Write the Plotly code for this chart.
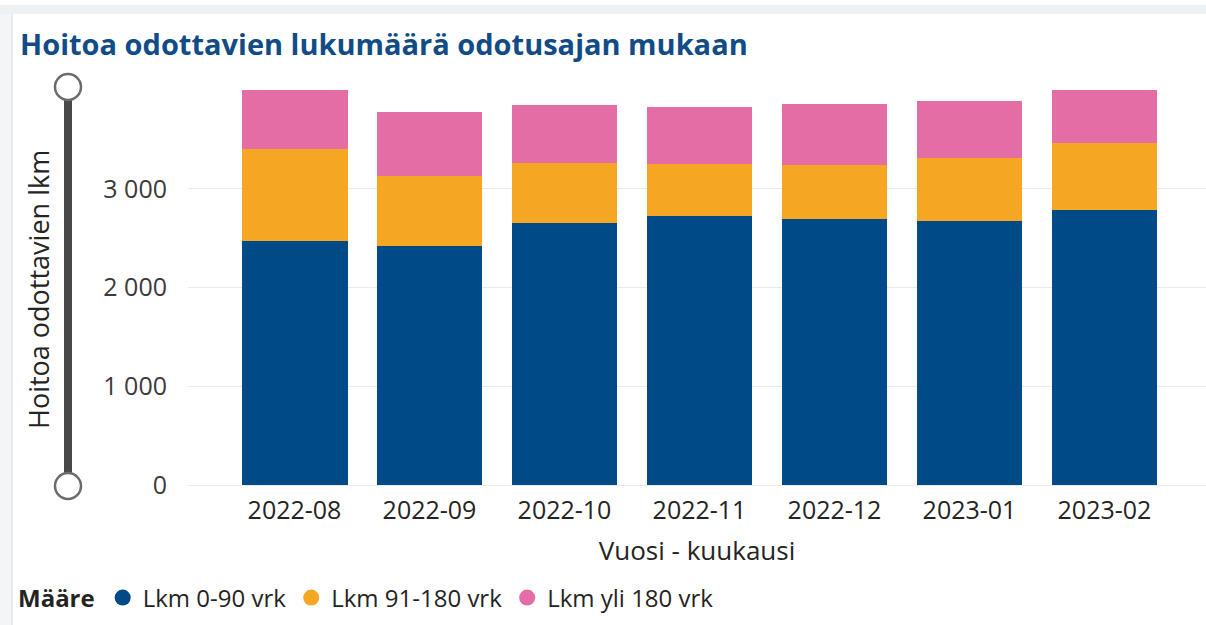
import plotly.graph_objects as go

# ---- data ----
months = ["2022-08", "2022-09", "2022-10", "2022-11", "2022-12", "2023-01", "2023-02"]
series_names = ["Lkm 0-90 vrk", "Lkm 91-180 vrk", "Lkm yli 180 vrk"]
lkm_0_90 = [2475, 2419, 2657, 2728, 2692, 2671, 2786]
lkm_91_180 = [927, 713, 607, 520, 549, 643, 674]
lkm_yli_180 = [597, 642, 580, 576, 619, 574, 539]
y_ticks = [0, 1000, 2000, 3000]

colors = ["#004A87", "#F5A623", "#E36DA4"]

W, H = 1206, 625
ML, MR, MT, MB = 188, 0, 90, 140
PW = W - ML - MR
PH = H - MT - MB


def px_x(px):
    return (px - ML) / PW


def px_y(py):
    return (H - MB - py) / PH


FONT = "Open Sans, Segoe UI, sans-serif"

fig = go.Figure()
for name, vals, col in zip(series_names, [lkm_0_90, lkm_91_180, lkm_yli_180], colors):
    fig.add_trace(go.Bar(x=months, y=vals, name=name, marker=dict(color=col, line=dict(width=0)),
                         showlegend=False))
# legend entries with round markers
for name, col in zip(series_names, colors):
    fig.add_trace(go.Scatter(x=[None], y=[None], mode="markers", name=name,
                             marker=dict(color=col, size=20, symbol="circle"), showlegend=True))

shapes = []
# outer frame strips
shapes.append(dict(type="rect", xref="paper", yref="paper", x0=px_x(0), x1=px_x(W), y0=px_y(5), y1=px_y(14),
                   fillcolor="#EEF1F4", line=dict(width=0), layer="below"))
shapes.append(dict(type="rect", xref="paper", yref="paper", x0=px_x(0), x1=px_x(12), y0=px_y(14), y1=px_y(H),
                   fillcolor="#F3F5F7", line=dict(width=0), layer="below"))
shapes.append(dict(type="line", xref="paper", yref="paper", x0=px_x(12), x1=px_x(12), y0=px_y(14), y1=px_y(H),
                   line=dict(color="#E3E6EA", width=1.5), layer="below"))
# zoom slider track
sx = 68
shapes.append(dict(type="line", xref="paper", yref="paper", x0=px_x(sx), x1=px_x(sx), y0=px_y(87), y1=px_y(486),
                   line=dict(color="#4A4846", width=8)))
for cy in (87, 486):
    shapes.append(dict(type="circle", xref="paper", yref="paper", xsizemode="pixel", ysizemode="pixel",
                       xanchor=px_x(sx), yanchor=px_y(cy), x0=-13, x1=13, y0=-13, y1=13,
                       fillcolor="white", line=dict(color="#6B6B6B", width=2.5)))

fig.update_layout(
    width=W, height=H,
    margin=dict(l=ML, r=MR, t=MT, b=MB, pad=0),
    paper_bgcolor="white", plot_bgcolor="white",
    barmode="stack", bargap=0.215,
    separators=",\u00a0",
    font=dict(family=FONT, size=25, color="#252423"),
    title=dict(text="<b>Hoitoa odottavien lukumäärä odotusajan mukaan</b>", xref="container", yref="container",
               x=20 / W, y=1 - 45 / H, xanchor="left", yanchor="middle",
               font=dict(family=FONT, size=29, color="#124C86")),
    xaxis=dict(type="category", range=[-0.789, 6.752], showgrid=False, showline=False, zeroline=False,
               ticks="", tickfont=dict(size=25, color="#252423"), ticklabelstandoff=8,
               title=dict(text="Vuosi - kuukausi", font=dict(size=26, color="#252423"), standoff=16)),
    yaxis=dict(range=[0, 4000], tickvals=y_ticks, tickformat=",d", showgrid=True, gridcolor="#EAEAEA",
               gridwidth=1.3, zeroline=True, zerolinecolor="#EAEAEA", zerolinewidth=1.3, showline=False,
               ticks="", tickfont=dict(size=25, color="#3B3A39"), ticklabelstandoff=20),
    legend=dict(orientation="h", xref="container", yref="container", x=16 / W, y=1 - 598 / H,
                xanchor="left", yanchor="middle", traceorder="normal",
                title=dict(text="<b>Määre</b>", font=dict(size=24)),
                font=dict(size=24, color="#252423"), itemwidth=30, tracegroupgap=0,
                bgcolor="rgba(0,0,0,0)"),
    shapes=shapes,
    annotations=[dict(text="Hoitoa odottavien lkm", textangle=-90, xref="paper", yref="paper",
                      x=px_x(38), y=px_y(290), xanchor="center", yanchor="middle", showarrow=False,
                      font=dict(size=27, color="#252423"))],
)

fig.write_html("out.html", config={"displayModeBar": False},
               post_script="document.body.style.margin='0';document.body.style.padding='0';")
